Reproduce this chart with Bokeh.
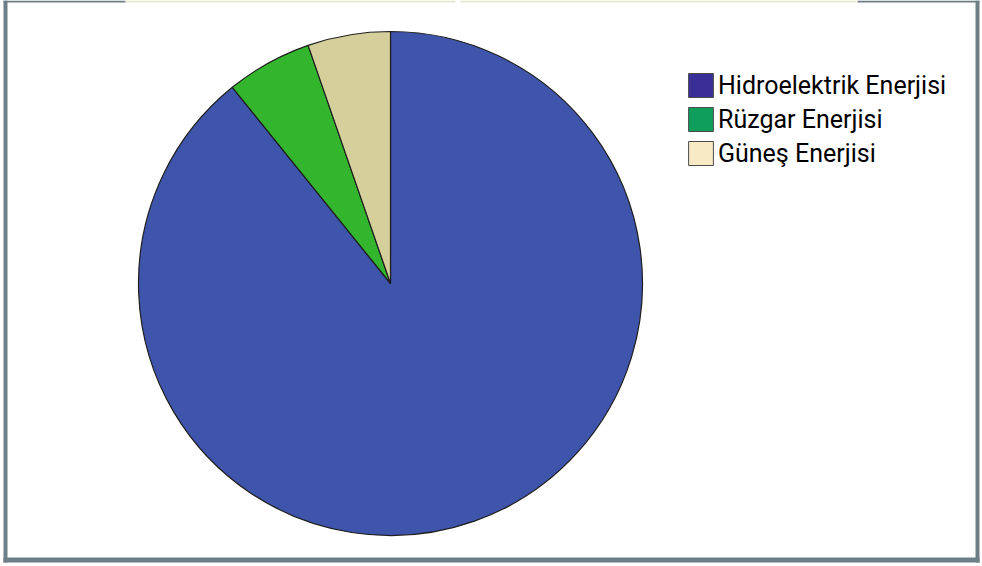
import numpy as np
from bokeh.plotting import figure
from bokeh.models import Range1d, ColumnDataSource, Legend, LegendItem
from bokeh.embed import file_html
from bokeh.resources import INLINE

categories = ["Hidroelektrik Enerjisi", "Rüzgar Enerjisi", "Güneş Enerjisi"]
values = [89.2, 5.5, 5.3]
pie_colors = ["#3F54AB", "#33B52E", "#D5D09B"]
legend_colors = ["#3A2F97", "#109E5C", "#F8EAC5"]

W, H = 980, 564
p = figure(width=W, height=H, output_backend="svg", toolbar_location=None,
           x_range=Range1d(0, 980), y_range=Range1d(2, 566),
           min_border=0, outline_line_color=None, background_fill_color="white")
p.axis.visible = False
p.grid.visible = False

vals = np.array(values, dtype=float)
frac = vals / vals.sum()
ends = np.pi / 2 - 2 * np.pi * np.cumsum(frac)
starts = np.concatenate([[np.pi / 2], ends[:-1]])
src = ColumnDataSource(dict(cat=categories, start=starts, end=ends, color=pie_colors))
p.wedge(x=390, y=283, radius=252, start_angle="start", end_angle="end",
        direction="clock", fill_color="color", line_color="#1E1E1E", line_width=1.2,
        source=src)

# picture border (coordinates: x as in picture, y = 566 - picture y)
p.quad(left=[3, 975, 3, 3, 857], right=[7, 979, 979, 125, 979],
       bottom=[4, 4, 4, 564, 564], top=[566, 566, 9, 566, 566],
       fill_color="#6E7E86", line_color=None)
p.quad(left=[125, 460], right=[455, 857], bottom=[564, 564], top=[566, 566],
       fill_color="#E4EACB", line_color=None)

items = []
for cat, col in zip(categories, legend_colors):
    r = p.rect(x=[-500], y=[-500], width=[1], height=[1], fill_color=col,
               line_color="#4A4A4A", line_width=1)
    items.append(LegendItem(label=cat, renderers=[r]))

legend = Legend(items=items, location=(685, 396), glyph_width=31, glyph_height=30,
                label_text_font="Roboto", label_text_font_size="25px", label_text_color="#000000",
                label_standoff=2, spacing=4, padding=0, margin=0,
                border_line_color=None, background_fill_alpha=0)
p.add_layout(legend, "center")

open("out.html", "w").write(file_html(p, INLINE))
